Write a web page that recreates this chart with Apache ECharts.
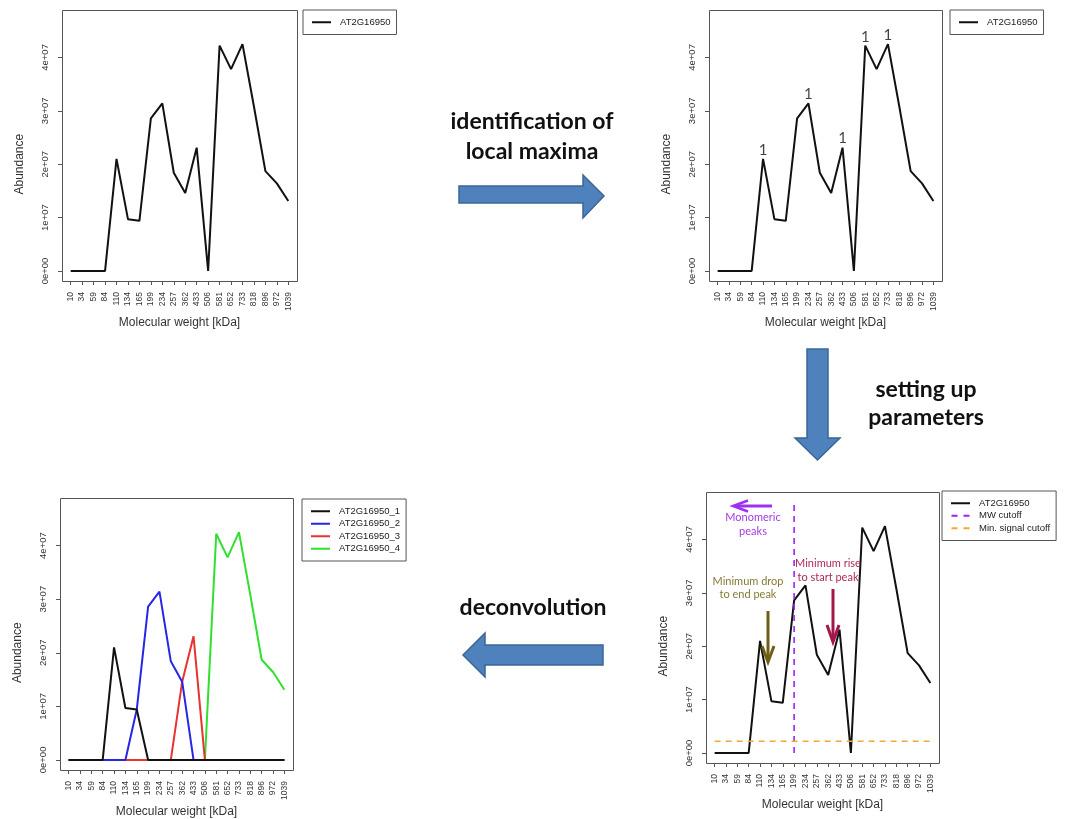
<!DOCTYPE html>
<html>
<head>
<meta charset="utf-8">
<script src="https://cdn.jsdelivr.net/npm/echarts@6/dist/echarts.min.js"></script>
<style>html,body{margin:0;padding:0;background:#fff}#c{width:1068px;height:819px}</style>
</head>
<body>
<div id="c"></div>
<script>
// ---- data ----
const mw = ['10','34','59','84','110','134','165','199','234','257','362','433','506','581','652','733','818','896','972','1039'];
const abundance = [0,0,0,0,2.10e7,9.7e6,9.4e6,2.86e7,3.14e7,1.84e7,1.46e7,2.31e7,0,4.22e7,3.78e7,4.25e7,3.08e7,1.87e7,1.64e7,1.31e7];
const peak1 = [0,0,0,0,2.10e7,9.7e6,9.4e6,0,0,0,0,0,0,0,0,0,0,0,0,0];
const peak2 = [0,0,0,0,0,0,9.4e6,2.86e7,3.14e7,1.84e7,1.46e7,0,0,0,0,0,0,0,0,0];
const peak3 = [0,0,0,0,0,0,0,0,0,0,1.46e7,2.31e7,0,0,0,0,0,0,0,0];
const peak4 = [0,0,0,0,0,0,0,0,0,0,0,0,0,4.22e7,3.78e7,4.25e7,3.08e7,1.87e7,1.64e7,1.31e7];
const geneName = 'AT2G16950';
const peakNames = ['AT2G16950_1','AT2G16950_2','AT2G16950_3','AT2G16950_4'];
const yTickMin = 0, yTickMax = 4e7, yTickStep = 1e7;
const mwCutoff = '199';
const mwCutoffSpan = [0, 4.65e7];
const minSignal = 2.2e6;

// ---- layout ----
const FONT = 'Liberation Sans, Arial, sans-serif';
const CAL = 'Lato, "Open Sans", sans-serif';
const boxes = [ [62,10,297,281], [709,10,942,281], [706,492,939,763], [60,498,293,770] ];
const yLimMax = 4.7e7;
function gridOf(b){
  const W=b[2]-b[0], H=b[3]-b[1];
  const px = W*0.04/1.08;
  const y0 = b[3] - H*0.04/1.08;
  const yTop = y0 - yTickMax*(H/1.08)/yLimMax;
  return {left:b[0]+px, top:yTop, width:W-2*px, height:y0-yTop, _px:px, _py:b[3]-y0};
}
const grids = boxes.map(gridOf);

function sci(v){
  if(v===0) return '0e+00';
  const e=Math.floor(Math.log10(Math.abs(v)));
  const m=+(v/Math.pow(10,e)).toFixed(2);
  return m+'e'+(e<0?'-':'+')+String(Math.abs(e)).padStart(2,'0');
}

const xAxes = grids.map((g,i)=>({
  type:'category', gridIndex:i, data:mw, boundaryGap:false, offset:g._py,
  axisLine:{show:false, onZero:false},
  axisTick:{show:true, alignWithLabel:true, length:4, lineStyle:{color:'#555'}, interval:0},
  axisLabel:{rotate:90, interval:0, fontSize:8.5, fontFamily:FONT, color:'#333', margin:11},
  name:'Molecular weight [kDa]', nameLocation:'middle', nameGap:36,
  nameTextStyle:{fontSize:12, fontFamily:FONT, color:'#333'},
  splitLine:{show:false}
}));
const yAxes = grids.map((g,i)=>({
  type:'value', gridIndex:i, min:yTickMin, max:yTickMax, interval:yTickStep, offset:g._px,
  axisLine:{show:false, onZero:false},
  axisTick:{show:true, length:4, lineStyle:{color:'#555'}},
  axisLabel:{rotate:90, fontSize:9.5, fontFamily:FONT, color:'#333', margin:12, formatter:sci},
  name:'Abundance', nameLocation:'middle', nameGap:36,
  nameTextStyle:{fontSize:12, fontFamily:FONT, color:'#333'},
  splitLine:{show:false}
}));

// local maxima for panel B
const maxima = [];
abundance.forEach((v,i)=>{
  if(i>0 && i<abundance.length-1 && v>abundance[i-1] && v>abundance[i+1]) maxima.push([i, v]);
});

const lineBase = (name, data, gi, color, extra) => Object.assign({
  type:'line', name, data, xAxisIndex:gi, yAxisIndex:gi, symbol:'none', clip:false,
  lineStyle:{color, width:2}, itemStyle:{color}, animation:false, silent:true
}, extra||{});

const purple = '#a020f0', orange = '#f2a93b';
const series = [
  lineBase(geneName, abundance, 0, '#111'),
  lineBase(geneName, abundance, 1, '#111'),
  {type:'scatter', name:'localMaxima', data:maxima, xAxisIndex:1, yAxisIndex:1, symbolSize:1, clip:false, silent:true,
   itemStyle:{color:'rgba(0,0,0,0)'},
   label:{show:true, position:'top', distance:1, formatter:'1', fontSize:15, fontFamily:CAL, color:'#111'}},
  lineBase(geneName, abundance, 2, '#111'),
  lineBase('MW cutoff', [[mw.indexOf(mwCutoff), mwCutoffSpan[0]],[mw.indexOf(mwCutoff), mwCutoffSpan[1]]], 2, purple, {lineStyle:{color:purple,width:1.6,type:[6,5]}}),
  lineBase('Min. signal cutoff', [[0,minSignal],[mw.length-1,minSignal]], 2, orange, {lineStyle:{color:orange,width:1.6,type:[6,5]}}),
  lineBase(peakNames[3], peak4, 3, '#2fe02f'),
  lineBase(peakNames[2], peak3, 3, '#e8332f'),
  lineBase(peakNames[1], peak2, 3, '#2626e6'),
  lineBase(peakNames[0], peak1, 3, '#111'),
];

const SOLID = 'path://M0,0H19V2H0Z';
const DASH = 'path://M0,0H6V2H0ZM12,0H18V2H12Z';
const legendBase = (left, top, data) => ({
  left, top, orient:'vertical', data, padding:[6,6,6,9],
  borderColor:'#555', borderWidth:1, backgroundColor:'#fff',
  itemWidth:19, itemHeight:2, itemGap:0, selectedMode:false,
  textStyle:{fontSize:9.5, fontFamily:FONT, color:'#222', padding:[0,0,0,4], lineHeight:12.5}
});
const legends = [
  legendBase(303, 10, [{name:geneName, icon:SOLID}]),
  legendBase(950, 10, [{name:geneName, icon:SOLID}]),
  legendBase(942, 491, [{name:geneName, icon:SOLID},{name:'MW cutoff', icon:DASH},{name:'Min. signal cutoff', icon:DASH}]),
  legendBase(302, 499, peakNames.map(n=>({name:n, icon:SOLID}))),
];

// frame boxes + flow arrows + annotations
const graphics = [];
boxes.forEach(b=>graphics.push({type:'rect', silent:true, z:10, shape:{x:b[0]+0.5,y:b[1]+0.5,width:b[2]-b[0],height:b[3]-b[1]}, style:{fill:null, stroke:'#555', lineWidth:1}}));
const arrowStyle = {fill:'#4f81bd', stroke:'#3b6696', lineWidth:1.5};
graphics.push({type:'polygon', shape:{points:[[459,186],[583,186],[583,175],[604,196],[583,218],[583,203],[459,203]]}, style:arrowStyle});
graphics.push({type:'polygon', shape:{points:[[807,349],[828,349],[828,438],[840,438],[817.5,460],[795,438],[807,438]]}, style:arrowStyle});
graphics.push({type:'polygon', shape:{points:[[603,645],[485,645],[485,633],[463,655],[485,677],[485,665],[603,665]]}, style:arrowStyle});
const bigText = (t,x,y)=>({type:'text', style:{text:t, x, y, align:'center', verticalAlign:'middle', fontSize:23, fontWeight:'bold', fontFamily:CAL, fill:'#111'}});
graphics.push(bigText('identification of',532,122), bigText('local maxima',532,152));
graphics.push(bigText('setting up',926,390), bigText('parameters',926,418));
graphics.push(bigText('deconvolution',533,608));
const smallText = (t,x,y,c)=>({type:'text', z:20, style:{text:t, x, y, align:'center', verticalAlign:'middle', fontSize:11, fontFamily:CAL, fill:c}});
graphics.push(smallText('Monomeric',753,517,'#a33ae6'), smallText('peaks',753,531,'#a33ae6'));
graphics.push(smallText('Minimum drop',748,581,'#857a35'), smallText('to end peak',748,594,'#857a35'));
graphics.push(smallText('Minimum rise',828,563,'#b0285a'), smallText('to start peak',828,577,'#b0285a'));
// purple left arrow
graphics.push({type:'line', z:20, shape:{x1:772,y1:506,x2:734,y2:506}, style:{stroke:'#a030f0', lineWidth:3}});
graphics.push({type:'polyline', z:20, shape:{points:[[748,500.5],[733,506],[748,511.5]]}, style:{stroke:'#a030f0', lineWidth:2.5, fill:null}});
// olive down arrow
graphics.push({type:'line', z:20, shape:{x1:768,y1:611,x2:768,y2:660}, style:{stroke:'#6e5f16', lineWidth:3}});
graphics.push({type:'polyline', z:20, shape:{points:[[762,646],[768,662],[774,646]]}, style:{stroke:'#6e5f16', lineWidth:3, fill:null}});
// crimson down arrow
graphics.push({type:'line', z:20, shape:{x1:833,y1:589,x2:833,y2:640}, style:{stroke:'#a3174a', lineWidth:3}});
graphics.push({type:'polyline', z:20, shape:{points:[[827,625],[833,642],[839,625]]}, style:{stroke:'#a3174a', lineWidth:3, fill:null}});

const chart = echarts.init(document.getElementById('c'), null, {renderer:'canvas'});
chart.setOption({
  animation:false,
  backgroundColor:'#fff',
  grid: grids.map(g=>({left:g.left, top:g.top, width:g.width, height:g.height, containLabel:false})),
  xAxis: xAxes, yAxis: yAxes,
  legend: legends,
  series,
  graphic: graphics
});
</script>
</body>
</html>
